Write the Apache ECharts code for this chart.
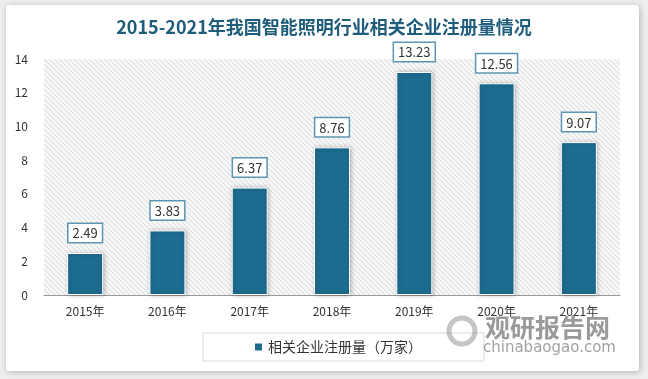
<!DOCTYPE html>
<html><head><meta charset="utf-8">
<script src="https://cdn.jsdelivr.net/npm/echarts@6/dist/echarts.min.js"></script>
<style>html,body{margin:0;padding:0;background:#eeeeee;}#c{width:648px;height:379px;}</style>
</head><body><div id="c"></div>
<script>
const categories = ['2015年','2016年','2017年','2018年','2019年','2020年','2021年'];
const values = [2.49, 3.83, 6.37, 8.76, 13.23, 12.56, 9.07];
const seriesName = '相关企业注册量（万家）';
const titleText = '2015-2021年我国智能照明行业相关企业注册量情况';

const pc = document.createElement('canvas');
pc.width = 5; pc.height = 5;
const g = pc.getContext('2d');
g.fillStyle = '#f7f7f7'; g.fillRect(0,0,5,5);
g.strokeStyle = '#d9d9d9'; g.lineWidth = 1;
g.beginPath();
g.moveTo(-1,-1); g.lineTo(6,6);
g.moveTo(-1,4); g.lineTo(1,6);
g.moveTo(4,-1); g.lineTo(6,1);
g.stroke();

const chart = echarts.init(document.getElementById('c'));
const font = '"Noto Sans CJK SC", "DejaVu Sans", sans-serif';
chart.setOption({
  backgroundColor: '#eeeeee',
  animation: false,
  textStyle: {fontFamily: font},
  graphic: [
    {type:'rect', z:-10, shape:{x:6,y:5,width:633,height:366,r:3}, style:{fill:'#ffffff', shadowBlur:6, shadowColor:'rgba(0,0,0,0.25)', shadowOffsetX:1, shadowOffsetY:1}},
    {type:'text', z:5, left:485, top:315, style:{text:'观研报告网', fill:'rgba(120,120,120,0.75)', font:'bold 25px "Noto Sans CJK SC"'}},
    {type:'text', z:5, left:483, top:341, style:{text:'chinabaogao.com', fill:'rgba(130,130,130,0.75)', font:'15px "DejaVu Sans"'}},
    {type:'circle', z:5, shape:{cx:462, cy:331, r:13}, style:{fill:'none', stroke:'rgba(150,150,150,0.55)', lineWidth:5}}
  ],
  title: {
    text: titleText, left: 'center', top: 13,
    textStyle: {color:'#1f5d7c', fontSize:18, fontWeight:'bold', fontFamily: font}
  },
  legend: {
    data: [seriesName], bottom: 18, left: 203,
    padding: [7, 62, 7, 50], itemGap: 6,
    borderColor: '#d9d9d9', borderWidth: 1,
    icon: 'rect', itemWidth: 9, itemHeight: 9,
    textStyle: {fontSize: 14, color: '#333', fontFamily: font}
  },
  grid: {
    left: 44, right: 28, top: 59, bottom: 84,
    show: true, borderWidth: 0,
    backgroundColor: {image: pc, repeat: 'repeat'}
  },
  xAxis: {
    type: 'category', data: categories,
    axisLine: {lineStyle: {color: '#999', width: 1}},
    axisTick: {show: false},
    axisLabel: {color: '#333', fontSize: 12, margin: 10}
  },
  yAxis: {
    type: 'value', min: 0, max: 14, interval: 2,
    axisLine: {show: false}, axisTick: {show: false},
    splitLine: {show: false},
    axisLabel: {color: '#333', fontSize: 12, margin: 16, align: 'right'}
  },
  series: [{
    name: seriesName, type: 'bar', data: values, barWidth: 36,
    itemStyle: {color: '#1d6b8f', borderColor: '#ffffff', borderWidth: 1,
      shadowBlur: 4, shadowColor: 'rgba(0,0,0,0.25)', shadowOffsetX: 1, shadowOffsetY: 0},
    label: {
      show: true, position: 'top', distance: 11,
      color: '#333', fontSize: 13,
      backgroundColor: '#ffffff', borderColor: '#5d95b2', borderWidth: 1.5,
      padding: [3, 4, 2, 4], formatter: p => p.value.toFixed(2)
    }
  }]
});
</script></body></html>
